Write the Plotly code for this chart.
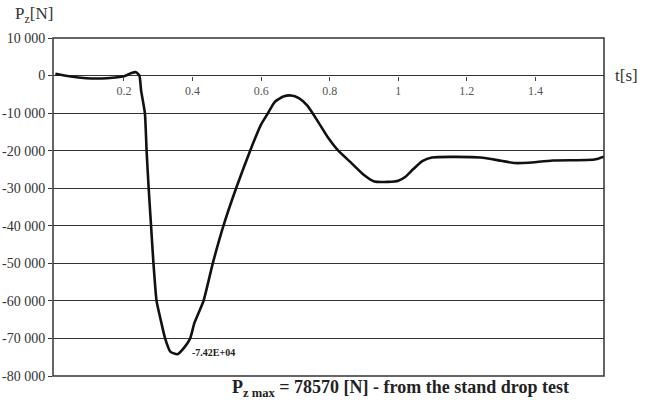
import plotly.graph_objects as go

# Data
t_s = [0.0, 0.04, 0.09, 0.15, 0.2, 0.22, 0.235, 0.245, 0.25, 0.261, 0.266, 0.272, 0.279,
       0.286, 0.295, 0.307, 0.32, 0.335, 0.356, 0.375, 0.393, 0.405, 0.432, 0.459, 0.49,
       0.527, 0.568, 0.6, 0.62, 0.64, 0.665, 0.687, 0.71, 0.735, 0.764, 0.795, 0.825,
       0.86, 0.9, 0.93, 0.97, 1.0, 1.02, 1.044, 1.07, 1.098, 1.24, 1.3, 1.34, 1.38,
       1.45, 1.55, 1.58, 1.6]
pz_n = [500, -200, -700, -700, -200, 600, 900, 0, -4000, -10000, -20000, -30000, -40000,
        -50000, -60000, -65000, -70000, -73500, -74200, -72500, -70000, -66000, -60000,
        -50000, -40000, -30000, -20000, -13000, -10000, -7000, -5600, -5300, -6000, -8000,
        -12000, -16500, -20000, -23000, -26500, -28200, -28300, -28000, -27000, -24900,
        -22800, -21800, -21800, -22700, -23300, -23200, -22600, -22500, -22200, -21600]

y_tick_vals = [10000, 0, -10000, -20000, -30000, -40000, -50000, -60000, -70000, -80000]
y_tick_text = ["10 000", "0", "-10 000", "-20 000", "-30 000", "-40 000", "-50 000",
               "-60 000", "-70 000", "-80 000"]
x_tick_vals = [0.2, 0.4, 0.6, 0.8, 1.0, 1.2, 1.4]
x_tick_text = ["0.2", "0.4", "0.6", "0.8", "1", "1.2", "1.4"]

min_label = "-7.42E+04"
min_label_t = 0.393
min_label_p = -73700

SERIF = "Liberation Serif"

fig = go.Figure()
fig.add_trace(go.Scatter(
    x=t_s, y=pz_n, mode="lines",
    line=dict(color="#111111", width=2.6, shape="spline", smoothing=0.5),
    showlegend=False, hoverinfo="skip",
))

fig.update_layout(
    width=648, height=408,
    margin=dict(l=53, r=44, t=38, b=32, autoexpand=False),
    paper_bgcolor="white", plot_bgcolor="white",
    font=dict(family=SERIF, color="#333333"),
    xaxis=dict(
        range=[-0.007, 1.6], anchor="free", position=8 / 9,
        tickvals=x_tick_vals, ticktext=x_tick_text, automargin=False,
        ticks="outside", ticklen=4, tickcolor="#444444", tickwidth=1,
        showgrid=False, zeroline=False, showline=False,
        tickfont=dict(family=SERIF, size=12, color="#555555"),
    ),
    yaxis=dict(
        range=[-80000, 10000], automargin=False,
        tickvals=y_tick_vals, ticktext=y_tick_text,
        ticks="outside", ticklen=4, tickcolor="#333333", tickwidth=1,
        showgrid=True, gridcolor="#333333", gridwidth=1,
        zeroline=False, showline=False,
        tickfont=dict(family=SERIF, size=14, color="#333333"),
    ),
    shapes=[dict(type="rect", xref="paper", yref="paper", x0=0, x1=1, y0=0, y1=1,
                 line=dict(color="#333333", width=1.5), layer="above")],
    annotations=[
        dict(text="P<sub>z</sub>[N]", xref="paper", yref="paper", x=-0.072, y=1.068,
             xanchor="left", yanchor="middle", showarrow=False,
             font=dict(family=SERIF, size=17, color="#333333")),
        dict(text="t[s]", xref="paper", yref="paper", x=1.016, y=8 / 9,
             xanchor="left", yanchor="middle", showarrow=False,
             font=dict(family=SERIF, size=17, color="#333333")),
        dict(text="<b>" + min_label + "</b>", x=min_label_t, y=min_label_p,
             xanchor="left", yanchor="middle", showarrow=False,
             font=dict(family=SERIF, size=10, color="#222222")),
        dict(text="<b>P<sub>z max</sub> = 78570 [N] - from the stand drop test</b>",
             xref="paper", yref="paper", x=0.63, y=-0.036,
             xanchor="center", yanchor="middle", showarrow=False,
             font=dict(family=SERIF, size=18, color="#222222")),
    ],
)

fig.write_html("out.html")
